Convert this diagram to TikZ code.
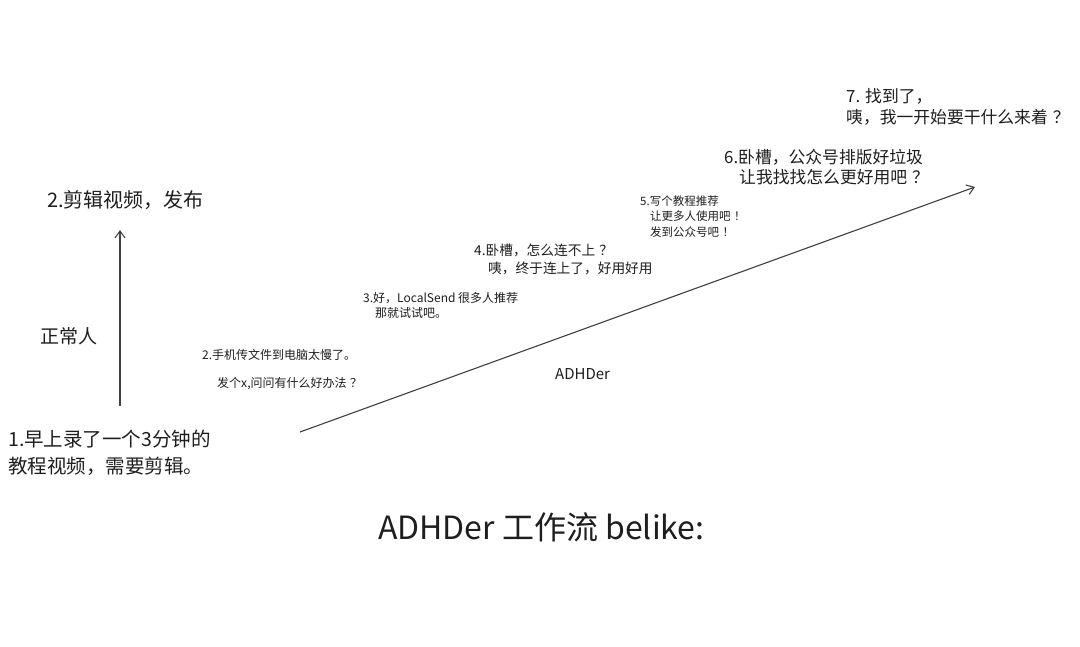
\documentclass[tikz,border=0pt]{standalone}
\usepackage{fontspec}
\setmainfont{Noto Sans CJK SC}
\usetikzlibrary{arrows.meta}
\definecolor{ink}{HTML}{1E1E1E}
\newcommand{\fq}{\kern0.3em？}
\newcommand{\fe}{\kern0.3em！}
\tikzset{
  txt/.style={anchor=west, inner sep=0pt, text=ink},
  big/.style={txt, font=\fontsize{19.5}{22}\selectfont},
  mid/.style={txt, font=\fontsize{16.8}{19}\selectfont},
  sml/.style={txt, font=\fontsize{13.7}{16}\selectfont},
  tiny/.style={txt, font=\fontsize{12}{14}\selectfont},
  conn/.style={draw=ink!85, line width=1.1pt, -{Straight Barb[length=7pt,width=10pt]}}
}
\begin{document}
\begin{tikzpicture}[x=1pt,y=-1pt]
\useasboundingbox[fill=white] (0,0) rectangle (1080,646);
% arrows
\coordinate (vs) at (120,406);
\coordinate (ve) at (120,230);
\coordinate (ds) at (300,432);
\coordinate (de) at (975,187);
\draw[conn] (vs) -- (ve);
\draw[conn] (ds) -- (de);
% left side
\node[txt, font=\fontsize{20}{22}\selectfont] (t2a) at (47,200) {2.剪辑视频，发布};
\node[txt, font=\fontsize{19}{22}\selectfont] (tn) at (40,336) {正常人};
\node[big] (t1a) at (8,439) {1.早上录了一个3分钟的};
\node[big] (t1b) at (8,466) {教程视频，需要剪辑。};
% steps along diagonal
\node[tiny] (s2a) at (202,355) {2.手机传文件到电脑太慢了。};
\node[tiny] (s2b) at (217,384) {发个x,问问有什么好办法\fq};
\node[tiny] (s3a) at (363,298) {3.好，LocalSend 很多人推荐};
\node[tiny] (s3b) at (375,313) {那就试试吧。};
\node[sml] (s4a) at (474,250) {4.卧槽，怎么连不上\fq};
\node[sml] (s4b) at (488,268) {咦，终于连上了，好用好用};
\node[txt, font=\fontsize{11.5}{14}\selectfont] (s5a) at (640,201) {5.写个教程推荐};
\node[txt, font=\fontsize{11.5}{14}\selectfont] (s5b) at (650,216) {让更多人使用吧\fe};
\node[txt, font=\fontsize{11.5}{14}\selectfont] (s5c) at (650,232) {发到公众号吧\fe};
\node[mid] (s6a) at (724,157) {6.卧槽，公众号排版好垃圾};
\node[mid] (s6b) at (739,177) {让我找找怎么更好用吧\fq};
\node[mid] (s7a) at (846,96) {7. 找到了，};
\node[mid] (s7b) at (846,117) {咦，我一开始要干什么来着\fq};
\node[txt, font=\fontsize{15}{17}\selectfont] (adh) at (555,374) {ADHDer};
% title
\node[txt, font=\fontsize{32}{36}\selectfont] (title) at (378,527) {ADHDer 工作流 belike:};
\end{tikzpicture}
\end{document}
